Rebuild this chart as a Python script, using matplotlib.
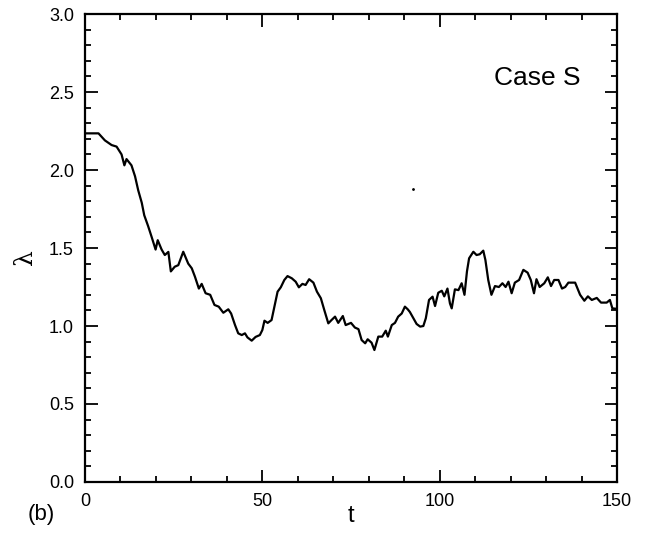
import numpy as np
import matplotlib
matplotlib.use("Agg")
import matplotlib.pyplot as plt
from matplotlib.ticker import MultipleLocator

# digitized lambda(t) curve, case S
t = [0.0, 2.0, 3.8, 5.6, 7.5, 8.9, 10.3, 11.1, 11.7, 13.1, 14.1, 15.0, 16.0,
     16.7, 17.8, 18.8, 19.9, 20.5, 21.6, 22.5, 23.5, 24.2, 25.3, 26.3, 27.7,
     29.1, 30.1, 31.0, 32.1, 32.9, 34.0, 35.3, 36.5, 37.7, 39.0, 40.4, 41.2,
     42.3, 43.2, 44.2, 45.1, 45.8, 47.0, 48.1, 49.3, 50.0, 50.6, 51.5, 52.6,
     53.4, 54.3, 55.2, 56.2, 57.1, 58.3, 59.4, 60.3, 61.3, 62.2, 63.2, 64.4,
     65.4, 66.5, 67.5, 68.6, 69.5, 70.5, 71.4, 72.7, 73.5, 75.0, 76.1, 77.1,
     78.0, 79.0, 79.7, 80.8, 81.6, 82.7, 83.8, 84.8, 85.4, 86.5, 87.4, 88.3,
     89.3, 90.2, 91.0, 91.6, 92.6, 93.5, 94.5, 95.4, 96.1, 97.0, 98.0, 98.7,
     99.6, 100.6, 101.3, 102.2, 102.9, 103.4, 104.3, 105.3, 106.2, 107.0,
     107.7, 108.3, 109.5, 110.4, 111.3, 112.3, 112.9, 113.7, 114.6, 115.6,
     116.7, 117.7, 118.6, 119.4, 120.3, 121.2, 122.4, 123.6, 124.8, 125.7,
     126.6, 127.3, 128.2, 129.5, 130.5, 131.4, 132.3, 133.5, 134.5, 135.4,
     136.3, 138.2, 139.6, 140.8, 141.8, 142.9, 144.3, 145.5, 147.1, 148.0,
     148.7, 150.0]
lam = [2.235, 2.235, 2.235, 2.19, 2.16, 2.15, 2.10, 2.03, 2.07, 2.03, 1.96,
       1.87, 1.79, 1.71, 1.64, 1.57, 1.49, 1.55, 1.49, 1.455, 1.475, 1.35,
       1.38, 1.39, 1.476, 1.40, 1.37, 1.316, 1.24, 1.27, 1.21, 1.20, 1.135,
       1.124, 1.085, 1.107, 1.08, 1.006, 0.953, 0.942, 0.953, 0.927, 0.906,
       0.93, 0.942, 0.974, 1.034, 1.02, 1.038, 1.124, 1.22, 1.248, 1.295,
       1.32, 1.306, 1.284, 1.248, 1.27, 1.263, 1.30, 1.278, 1.22, 1.178, 1.10,
       1.017, 1.038, 1.06, 1.02, 1.064, 1.006, 1.02, 0.99, 0.98, 0.91, 0.889,
       0.915, 0.893, 0.846, 0.932, 0.932, 0.97, 0.932, 1.006, 1.02, 1.06,
       1.08, 1.124, 1.107, 1.09, 1.05, 1.013, 0.996, 1.0, 1.05, 1.167, 1.188,
       1.128, 1.213, 1.226, 1.19, 1.24, 1.145, 1.113, 1.235, 1.23, 1.274,
       1.20, 1.35, 1.434, 1.476, 1.455, 1.46, 1.483, 1.423, 1.295, 1.20,
       1.256, 1.25, 1.274, 1.25, 1.284, 1.21, 1.278, 1.295, 1.36, 1.342,
       1.295, 1.21, 1.30, 1.25, 1.274, 1.312, 1.256, 1.295, 1.295, 1.24,
       1.25, 1.278, 1.278, 1.20, 1.162, 1.19, 1.167, 1.18, 1.15, 1.15, 1.167,
       1.113, 1.11]

plt.rcParams['font.family'] = ['Liberation Sans', 'DejaVu Sans']

fig = plt.figure(figsize=(6.47, 5.33), dpi=100)
ax = fig.add_axes([0.1314, 0.0957, 0.8222, 0.878])

ax.plot(t, lam, color='black', lw=1.6)
ax.plot([92.6], [1.876], 'k.', ms=2)  # speck in the original scan

ax.set_xlim(0, 150)
ax.set_ylim(0, 3.0)
ax.xaxis.set_major_locator(MultipleLocator(50))
ax.xaxis.set_minor_locator(MultipleLocator(10))
ax.yaxis.set_major_locator(MultipleLocator(0.5))
ax.yaxis.set_minor_locator(MultipleLocator(0.1))
ax.yaxis.set_major_formatter(matplotlib.ticker.FormatStrFormatter('%.1f'))

ax.tick_params(which='both', direction='in', top=True, right=True,
               width=1.3, labelsize=13)
ax.tick_params(which='major', length=9, pad=8)
ax.tick_params(which='minor', length=4.5)
for s in ax.spines.values():
    s.set_linewidth(1.6)

ax.set_xlabel('t', fontsize=17, labelpad=-4)
ax.set_ylabel('λ', fontsize=18, family=['DejaVu Serif'])
ax.yaxis.set_label_coords(-0.09, 0.48)

ax.text(139.7, 2.59, 'Case S', fontsize=19, ha='right', va='center')
fig.text(0.063, 0.035, '(b)', fontsize=16, ha='center', va='center')

fig.savefig('out.png', dpi=100)
